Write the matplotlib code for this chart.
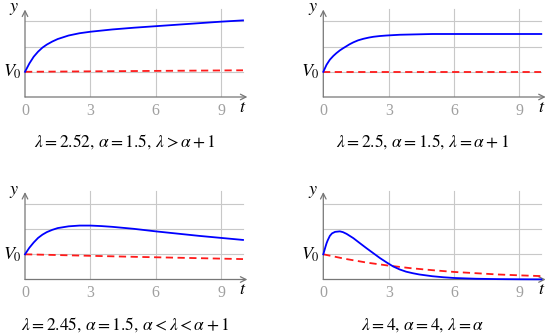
import matplotlib
matplotlib.use('Agg')
import matplotlib.pyplot as plt

plt.rcParams['mathtext.fontset'] = 'stix'
plt.rcParams['font.family'] = ['Liberation Serif', 'DejaVu Serif']

# Panel 1: lambda > alpha + 1
t1 = [0, 0.2, 0.4, 0.6, 0.8, 1.0, 1.25, 1.5, 2, 2.5, 3, 4, 5, 6, 7, 8, 9, 10]
v1 = [1.00, 1.33, 1.60, 1.80, 1.96, 2.08, 2.20, 2.30, 2.44, 2.53, 2.59, 2.68,
      2.75, 2.81, 2.87, 2.93, 2.99, 3.04]
r1_t = [0, 5, 10]
r1 = [1.00, 1.03, 1.06]

# Panel 2: lambda = alpha + 1
t2 = [0, 0.15, 0.3, 0.46, 0.6, 0.76, 0.9, 1.07, 1.2, 1.38, 1.6, 1.84, 2.1,
      2.3, 2.6, 2.9, 3.5, 4, 4.5, 5, 6, 8, 10]
v2 = [1.00, 1.28, 1.48, 1.63, 1.74, 1.85, 1.93, 2.02, 2.09, 2.17, 2.25, 2.31,
      2.36, 2.39, 2.42, 2.44, 2.47, 2.48, 2.49, 2.50, 2.50, 2.50, 2.50]
r2_t = [0, 10]
r2 = [1.00, 1.00]

# Panel 3: alpha < lambda < alpha + 1
t3 = [0, 0.2, 0.4, 0.6, 0.8, 1.0, 1.25, 1.5, 2, 2.5, 3, 3.5, 4, 5, 6, 7, 8, 9, 10]
v3 = [1.00, 1.26, 1.47, 1.65, 1.78, 1.88, 1.97, 2.04, 2.11, 2.14, 2.14, 2.12,
      2.09, 2.01, 1.91, 1.82, 1.73, 1.65, 1.57]
r3_t = [0, 5, 10]
r3 = [1.00, 0.90, 0.81]

# Panel 4: lambda = alpha
t4 = [0, 0.05, 0.1, 0.15, 0.2, 0.3, 0.4, 0.54, 0.76, 0.9, 1.07, 1.38, 1.68,
      2.0, 2.3, 2.6, 2.9, 3.2, 3.5, 3.8, 4.1, 4.4, 5, 5.5, 6, 7, 8, 9, 10]
v4 = [1.00, 1.15, 1.30, 1.44, 1.55, 1.73, 1.83, 1.89, 1.91, 1.88, 1.81, 1.64,
      1.44, 1.23, 1.04, 0.85, 0.68, 0.52, 0.40, 0.31, 0.25, 0.20, 0.13, 0.09,
      0.06, 0.03, 0.015, 0.008, 0.004]
r4_t = [0, 1, 2, 3, 4, 5, 6, 7, 8, 9, 10]
r4 = [1.00, 0.82, 0.67, 0.55, 0.45, 0.37, 0.30, 0.25, 0.20, 0.165, 0.135]

captions = [
    r'$\lambda = 2.52,\, \alpha = 1.5,\, \lambda > \alpha + 1$',
    r'$\lambda = 2.5,\, \alpha = 1.5,\, \lambda = \alpha + 1$',
    r'$\lambda = 2.45,\, \alpha = 1.5,\, \alpha < \lambda < \alpha + 1$',
    r'$\lambda = 4,\, \alpha = 4,\, \lambda = \alpha$',
]

xticks = [0, 3, 6, 9]
ygrid = [1, 2, 3]

W, H = 550.0, 335.0
ux, uy = 21.8, 25.2          # pixels per data unit
xmax, ymax = 10.3, 3.55


def draw_panel(x0, y0, t, v, rt, r, caption, cap_x, cap_y):
    ax = fig.add_axes([x0 / W, (H - y0) / H, xmax * ux / W, ymax * uy / H])
    ax.set_xlim(0, xmax)
    ax.set_ylim(0, ymax)
    ax.axis('off')
    for g in xticks[1:]:
        ax.plot([g, g], [0, 3.5], color='#c8c8c8', lw=0.8, zorder=1)
    for g in ygrid:
        ax.plot([0, 10], [g, g], color='#c8c8c8', lw=0.8, zorder=1)
    ax.annotate('', xy=(10.2, 0), xytext=(0, 0),
                arrowprops=dict(arrowstyle='->', color='#777777', lw=0.9,
                                shrinkA=0, shrinkB=0), annotation_clip=False)
    ax.annotate('', xy=(0, 3.47), xytext=(0, 0),
                arrowprops=dict(arrowstyle='->', color='#777777', lw=0.9,
                                shrinkA=0, shrinkB=0), annotation_clip=False)
    ax.plot(rt, r, color='#ff1a1a', lw=1.3, dashes=(4, 2.5), zorder=3,
            clip_on=False)
    ax.plot(t, v, color='#0000ff', lw=1.3, zorder=4, clip_on=False)
    for xt in xticks:
        ax.text(xt, -0.22, str(xt), color='#a0a0a0', fontsize=11.5,
                ha='center', va='top')
    ax.text(-0.15, 1.0, r'$V_0$', fontsize=13, ha='right', va='center')
    ax.text(-0.25, 3.5, r'$y$', fontsize=13, ha='right', va='center')
    ax.text(10.0, -0.4, r'$t$', fontsize=13, ha='center', va='center')
    fig.text(cap_x / W, 1 - cap_y / H, caption, fontsize=12.5,
             ha='center', va='center')


fig = plt.figure(figsize=(5.5, 3.35), dpi=100)
draw_panel(25, 97, t1, v1, r1_t, r1, captions[0], 125, 142)
draw_panel(323.3, 97, t2, v2, r2_t, r2, captions[1], 423, 142)
draw_panel(25, 279.5, t3, v3, r3_t, r3, captions[2], 125, 325)
draw_panel(323.3, 279.5, t4, v4, r4_t, r4, captions[3], 423, 325)

fig.savefig('out.png', dpi=100)
plt.close(fig)
